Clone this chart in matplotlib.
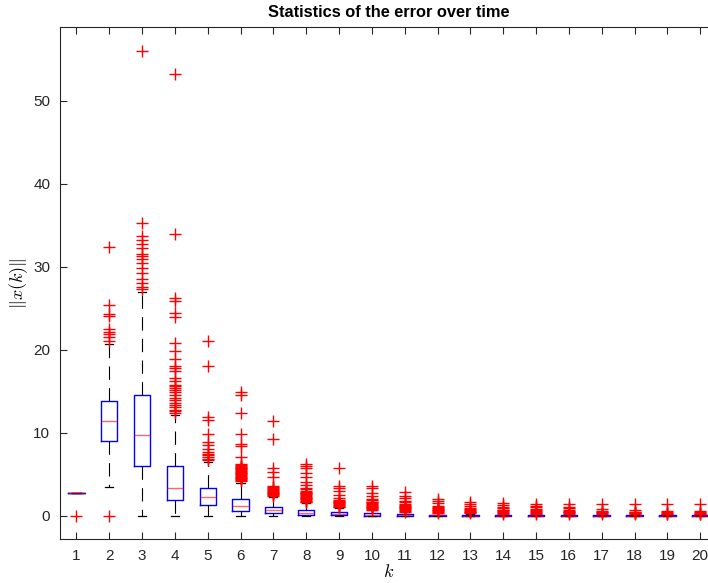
import matplotlib
matplotlib.use('Agg')
import matplotlib.pyplot as plt

plt.rcParams['font.family'] = ['Liberation Sans', 'DejaVu Sans']
plt.rcParams['mathtext.fontset'] = 'cm'

# time steps
k = list(range(1, 21))

# box statistics
q1 = [2.8, 9.05, 6.0, 1.95, 1.3, 0.52, 0.28, 0.1, 0.05, 0.03,
      0.02, 0.01, 0.01, 0.005, 0.0, 0.0, 0.0, 0.0, 0.0, 0.0]
med = [2.8, 11.45, 9.75, 3.4, 2.25, 1.15, 0.64, 0.38, 0.2, 0.12,
       0.07, 0.04, 0.03, 0.02, 0.015, 0.01, 0.01, 0.01, 0.01, 0.01]
q3 = [2.8, 13.8, 14.5, 6.05, 3.4, 2.05, 1.08, 0.7, 0.45, 0.3,
      0.2, 0.12, 0.09, 0.07, 0.06, 0.05, 0.05, 0.04, 0.04, 0.04]
whislo = [2.8, 3.5, 0, 0, 0, 0, 0, 0, 0, 0,
          0, 0, 0, 0, 0, 0, 0, 0, 0, 0]
whishi = [2.8, 20.7, 27.0, 12.2, 6.5, 4.0, 2.3, 1.5, 0.95, 0.65,
          0.45, 0.3, 0.25, 0.22, 0.2, 0.18, 0.16, 0.15, 0.14, 0.14]

# outliers
fliers = [
    [0.0],
    [0.0, 21.1, 21.6, 21.9, 22.2, 22.5, 24.1, 24.3, 25.4, 32.4],
    [27.3, 27.6, 28.1, 28.5, 29.2, 29.8, 30.4, 31.0, 31.3, 31.6, 32.3,
     32.8, 33.2, 33.7, 35.3, 56.0],
    [12.4, 12.6, 12.8, 13.1, 13.3, 13.6, 13.9, 14.2, 14.6, 14.9, 15.2,
     15.4, 15.6, 15.8, 16.2, 16.6, 17.4, 17.8, 18.1, 18.9, 19.8, 20.8,
     24.0, 24.4, 25.9, 26.2, 33.9, 53.2],
    [6.7, 6.9, 7.1, 7.3, 7.5, 7.7, 8.1, 8.5, 8.9, 9.8, 11.5, 11.9,
     18.1, 21.1],
    [4.2, 4.3, 4.4, 4.5, 4.6, 4.7, 4.8, 4.9, 5.0, 5.1, 5.2, 5.3, 5.4,
     5.5, 5.6, 5.7, 5.8, 5.9, 6.0, 6.1, 6.2, 7.1, 8.4, 8.7, 9.8, 12.4,
     14.5, 14.9],
    [2.4, 2.5, 2.6, 2.7, 2.8, 2.9, 3.0, 3.1, 3.2, 3.3, 3.45, 3.6, 4.7,
     5.3, 5.7, 9.2, 11.4],
    [1.6, 1.7, 1.8, 1.9, 2.0, 2.1, 2.2, 2.3, 2.4, 2.5, 2.6, 2.7, 2.8,
     2.9, 3.0, 3.2, 3.4, 3.7, 4.1, 4.7, 5.1, 5.7, 6.0, 6.2],
    [1.0, 1.1, 1.2, 1.3, 1.4, 1.5, 1.6, 1.7, 1.8, 1.9, 2.1, 2.5, 3.0,
     3.3, 3.6, 5.7],
    [0.7, 0.8, 0.9, 1.0, 1.1, 1.2, 1.3, 1.4, 1.5, 1.6, 1.7, 1.85, 2.0,
     2.4, 2.8, 3.3, 3.6],
    [0.5, 0.6, 0.7, 0.8, 0.9, 1.0, 1.1, 1.2, 1.3, 1.45, 1.6, 1.8, 2.1,
     2.4, 2.9],
    [0.35, 0.45, 0.55, 0.65, 0.75, 0.85, 0.95, 1.05, 1.2, 1.5, 1.8,
     2.0],
    [0.3, 0.4, 0.5, 0.6, 0.7, 0.8, 0.9, 1.2, 1.4, 1.6],
    [0.25, 0.35, 0.45, 0.55, 0.65, 0.75, 0.9, 1.1, 1.3, 1.5],
    [0.25, 0.35, 0.45, 0.55, 0.65, 0.8, 1.0, 1.2, 1.45],
    [0.22, 0.3, 0.4, 0.5, 0.6, 0.7, 0.9, 1.1, 1.45],
    [0.2, 0.3, 0.4, 0.5, 0.6, 0.8, 1.45],
    [0.2, 0.28, 0.36, 0.44, 0.5, 0.7, 1.45],
    [0.18, 0.26, 0.34, 0.45, 0.6, 1.45],
    [0.18, 0.26, 0.34, 0.45, 0.6, 1.45],
]

stats = []
for i in range(len(k)):
    stats.append(dict(q1=q1[i], med=med[i], q3=q3[i], whislo=whislo[i],
                      whishi=whishi[i], fliers=fliers[i]))

fig = plt.figure(figsize=(7.08, 5.83), dpi=100)
ax = fig.add_axes([60/708, 44/583, 656.6/708, 512/583])

ax.bxp(stats, positions=k, widths=0.5, capwidths=0.25,
       boxprops=dict(color='#0000ff', linewidth=1.0),
       whiskerprops=dict(color='black', linewidth=0.8,
                         linestyle=(0, (12, 7.5))),
       capprops=dict(color='black', linewidth=0.9),
       medianprops=dict(color='#ff0000', linewidth=1.0, alpha=0.6),
       flierprops=dict(marker='+', markeredgecolor='#ff0000', markersize=8,
                       markeredgewidth=1.0, linestyle='none'))

ax.set_xlim(0.5, 20.5)
ax.set_ylim(-2.8, 58.9)
ax.set_xticks(k)
ax.set_xticklabels([str(v) for v in k])
ax.set_yticks([0, 10, 20, 30, 40, 50])

ax.tick_params(direction='in', top=True, right=True, length=5,
               labelsize=11, colors='#262626', pad=7)
for s in ax.spines.values():
    s.set_color('#262626')
    s.set_linewidth(0.8)

ax.set_title('Statistics of the error over time', fontsize=11.8,
             fontweight='bold', pad=7)
ax.set_xlabel('$k$', fontsize=13, labelpad=1)
ax.set_ylabel(r'$\|x(k)\|$', fontsize=13, labelpad=2)

fig.savefig('out.png', dpi=100)
